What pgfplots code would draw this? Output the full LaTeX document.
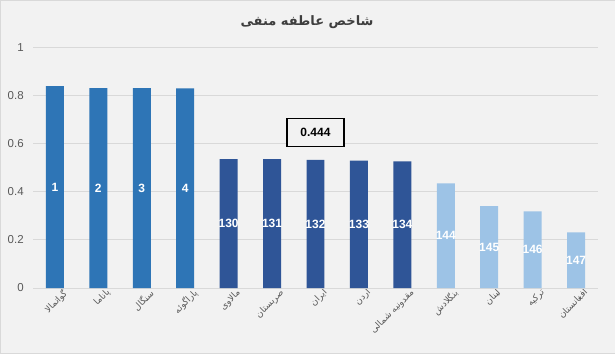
\documentclass[border=0pt]{standalone}
\usepackage{fontspec}
\usepackage{pgfplots}
\usepackage{pgfplotstable}
\pgfplotsset{compat=1.18}
\setmainfont{Liberation Sans}
\newfontfamily\fa[Script=Arabic]{DejaVu Sans}
\TeXXeTstate=1
\definecolor{bgc}{HTML}{F2F2F2}
\definecolor{brd}{HTML}{D9D9D9}
\definecolor{cA}{HTML}{2E75B6}
\definecolor{cB}{HTML}{2F5597}
\definecolor{cC}{HTML}{9DC3E6}
\definecolor{txt}{HTML}{595959}
\pgfplotstableread{
x y r
0 0.838 1
1 0.830 2
2 0.830 3
3 0.829 4
}\tA
\pgfplotstableread{
x y r
4 0.535 130
5 0.535 131
6 0.532 132
7 0.529 133
8 0.526 134
}\tB
\pgfplotstableread{
x y r
9 0.434 144
10 0.340 145
11 0.318 146
12 0.231 147
}\tC
\begin{document}
\begin{tikzpicture}[x=1pt,y=1pt]
\path[use as bounding box,fill=bgc,draw=brd] (-33,-65) rectangle (582,288);
\node[font=\fa\bfseries\fontsize{13}{15}\selectfont,text=txt!70!black] at (274,266) {\beginR شاخص عاطفه منفی\endR};
\begin{axis}[
  at={(0,0)},anchor=south west,
  scale only axis,width=565pt,height=241pt,
  ybar,bar width=18pt,bar shift=0pt,
  xmin=-0.5,xmax=12.5,ymin=0,ymax=1,
  axis line style={draw=none},
  ytick={0,0.2,0.4,0.6,0.8,1},
  yticklabels={0,0.2,0.4,0.6,0.8,1},
  ymajorgrids,
  grid style={brd,line width=0.8pt},
  major tick length=0pt,
  yticklabel style={font=\fontsize{11.5}{13}\selectfont,text=txt,xshift=-6pt},
  xtick={0,...,12},
  xticklabels={
    {\beginR گواتمالا\endR},
    {\beginR پاناما\endR},
    {\beginR سنگال\endR},
    {\beginR پاراگوئه\endR},
    {\beginR مالاوی\endR},
    {\beginR صربستان\endR},
    {\beginR ایران\endR},
    {\beginR اردن\endR},
    {\beginR مقدونیه شمالی\endR},
    {\beginR بنگلادش\endR},
    {\beginR لبنان\endR},
    {\beginR ترکیه\endR},
    {\beginR افغانستان\endR}},
  xticklabel style={font=\fa\fontsize{9}{10}\selectfont,text=txt,rotate=45,anchor=north east,xshift=7pt,yshift=-3pt,inner sep=2pt},
  point meta=explicit symbolic,
  nodes near coords,
  visualization depends on={\thisrow{y} \as \yval},
  every node near coord/.append style={anchor=center,yshift=-\yval*120.5pt,font=\bfseries\fontsize{12}{14}\selectfont,text=white,inner sep=0pt},
  clip=false,
]
\draw[brd,line width=0.8pt] (axis cs:-0.5,0) -- (axis cs:12.5,0);
\addplot[fill=cA,draw=none] table[x=x,y=y,meta=r]{\tA};
\addplot[fill=cB,draw=none] table[x=x,y=y,meta=r]{\tB};
\addplot[fill=cC,draw=none] table[x=x,y=y,meta=r]{\tC};
\node[draw=black,line width=1.6pt,fill=bgc,font=\bfseries\fontsize{12}{14}\selectfont,minimum width=57pt,minimum height=28pt,inner sep=2pt] at (axis cs:6,0.645) {0.444};
\end{axis}
\end{tikzpicture}
\end{document}
